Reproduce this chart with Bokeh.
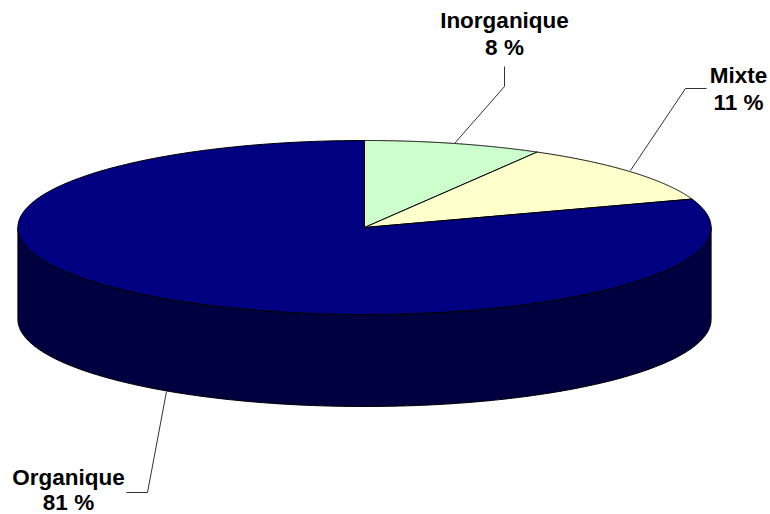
import numpy as np
from bokeh.plotting import figure
from bokeh.models import Range1d
from bokeh.core.properties import value
from bokeh.embed import file_html
from bokeh.resources import INLINE

categories = ["Inorganique", "Mixte", "Organique"]
shares = [8.3, 11.4, 80.3]
share_labels = ["8 %", "11 %", "81 %"]
colors = ["#CCFFCC", "#FFFFCC", "#000080"]
side_color = "#000040"

CX, CY, RX, RY, DEPTH = 364.0, 227.0, 346.6, 87.0, 92.0

def rim(t0, t1, n=240, dy=0.0):
    t = np.radians(np.linspace(t0, t1, n))
    return CX + RX * np.sin(t), CY + dy - RY * np.cos(t)

W, H = 770, 514
p = figure(width=W, height=H, output_backend="svg", toolbar_location=None,
           x_range=Range1d(0, W), y_range=Range1d(H, 0),
           min_border=0, outline_line_color=None)
p.axis.visible = False
p.grid.visible = False

# side wall: front half of the rim, extruded downward
x_top, y_top = rim(90, 270)
x_bot, y_bot = rim(270, 90, dy=DEPTH)
p.patch(np.r_[x_top, x_bot].tolist(), np.r_[y_top, y_bot].tolist(),
        fill_color=side_color, line_color="black", line_width=1)

# top face slices, clockwise from 12 o'clock
edges = np.cumsum([0] + shares) / sum(shares) * 360
for i, c in enumerate(colors):
    x, y = rim(edges[i], edges[i + 1])
    p.patch(np.r_[CX, x].tolist(), np.r_[CY, y].tolist(),
            fill_color=c, line_color="black", line_width=1)

# leader lines
p.multi_line([[504, 504, 454], [706, 685, 630], [166, 147, 126]],
             [[66, 86, 143], [88, 88, 170], [391, 492, 492]],
             line_color="#333333", line_width=1)

# labels
label_x = [504, 738, 68]
names_y = [20, 75, 477]
vals_y = [47, 102, 502]
for txt, ys in ((categories, names_y), (share_labels, vals_y)):
    p.text(label_x, ys, text=txt, text_font=value("Liberation Sans"),
           text_font_size="22.5px", text_font_style="bold", text_color="black",
           text_align="center", text_baseline="middle")

open("out.html", "w").write(file_html(p, INLINE))
